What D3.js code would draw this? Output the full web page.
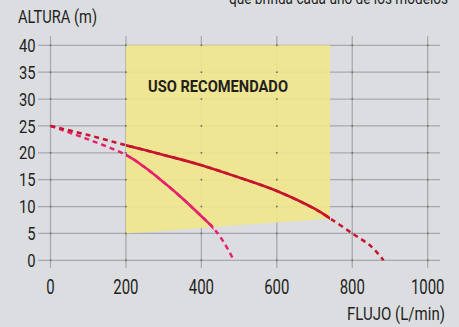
<!DOCTYPE html>
<html>
<head>
<meta charset="utf-8">
<script src="https://cdn.jsdelivr.net/npm/d3@7"></script>
<style>
  html, body { margin: 0; padding: 0; background: #dcdde0; }
  svg { display: block; }
  text { font-family: Roboto, "Noto Sans", sans-serif; fill: #231f20; }
</style>
</head>
<body>
<svg id="chart" width="459" height="327"></svg>
<script>
// Axis ticks
const xTicks = [0, 200, 400, 600, 800, 1000];
const yTicks = [0, 5, 10, 15, 20, 25, 30, 35, 40];

// Recommended-use zone (flow, height)
const zone = [[200, 40], [741, 40], [741, 7.8], [200, 5]];

// Pump curve A (dark red): full curve and solid (recommended) segment
const curveA = [[0, 25], [100, 23.3], [200, 21.4], [300, 19.6], [400, 17.7], [500, 15.4],
                [600, 12.9], [700, 9.6], [741, 7.8], [800, 5.0], [850, 2.6], [883, 0]];
const solidA = [200, 741];

// Pump curve B (pink)
const curveB = [[0, 25], [100, 22.5], [200, 19.6], [250, 17.3], [300, 14.5], [350, 11.5],
                [400, 8.2], [432, 6.0], [460, 3.3], [486, 0]];
const solidB = [200, 432];

const svg = d3.select("#chart");
const x = d3.scaleLinear().domain([0, 1000]).range([50.5, 427.7]);
const y = d3.scaleLinear().domain([0, 40]).range([260.3, 45.3]);

// Grid
const grid = svg.append("g");
grid.selectAll("line.h").data(yTicks).join("line")
  .attr("x1", 38).attr("x2", 440)
  .attr("y1", d => y(d)).attr("y2", d => y(d))
  .attr("stroke", "#a8a9ac").attr("stroke-width", 1.3);
grid.selectAll("line.v").data(xTicks).join("line")
  .attr("x1", d => x(d)).attr("x2", d => x(d))
  .attr("y1", 36).attr("y2", 268)
  .attr("stroke", "#a8a9ac").attr("stroke-width", 1.3);

// Recommended zone
svg.append("path")
  .attr("d", d3.line().x(d => x(d[0])).y(d => y(d[1]))(zone) + "Z")
  .attr("fill", "#f0e68c").attr("fill-opacity", 0.92);

svg.append("text")
  .attr("x", 148).attr("y", 91.7)
  .attr("font-size", 16.5).attr("font-weight", "bold")
  .attr("textLength", 140).attr("lengthAdjust", "spacingAndGlyphs")
  .text("USO RECOMENDADO");

// Intersection dots
const pts = [];
xTicks.forEach(a => yTicks.forEach(b => pts.push([a, b])));
svg.append("g").selectAll("rect").data(pts).join("rect")
  .attr("x", d => x(d[0]) - 0.8).attr("y", d => y(d[1]) - 0.8)
  .attr("width", 1.6).attr("height", 1.6).attr("fill", "#6a6a6c");

const line = d3.line().curve(d3.curveCatmullRom).x(d => x(d[0])).y(d => y(d[1]));

function drawCurve(data, solid, color, id) {
  svg.append("path").attr("d", line(data)).attr("fill", "none")
    .attr("stroke", color).attr("stroke-width", 2.5).attr("stroke-dasharray", "5,4");
  svg.append("clipPath").attr("id", id).append("rect")
    .attr("x", x(solid[0])).attr("y", 0)
    .attr("width", x(solid[1]) - x(solid[0])).attr("height", 327);
  // solid stretch inside the recommended range
  svg.append("path").attr("d", line(data)).attr("fill", "none")
    .attr("stroke", color).attr("stroke-width", 2.6)
    .attr("clip-path", `url(#${id})`);
}
drawCurve(curveB, solidB, "#e8206e", "clipB");
drawCurve(curveA, solidA, "#c5142e", "clipA");

// Y tick labels
svg.append("g").selectAll("text").data(yTicks).join("text")
  .attr("x", 35.5).attr("y", d => y(d) + 6.6)
  .attr("text-anchor", "end").attr("font-size", 18.5)
  .attr("textLength", d => String(d).length * 8.3).attr("lengthAdjust", "spacingAndGlyphs")
  .text(d => d);

// X tick labels
svg.append("g").selectAll("text").data(xTicks).join("text")
  .attr("x", d => x(d)).attr("y", 294)
  .attr("text-anchor", "middle").attr("font-size", 20.5)
  .attr("textLength", d => String(d).length * 8.4).attr("lengthAdjust", "spacingAndGlyphs")
  .text(d => d);

svg.append("text").attr("x", 18).attr("y", 23).attr("font-size", 18.5)
  .attr("textLength", 79).attr("lengthAdjust", "spacingAndGlyphs").text("ALTURA (m)");

// Axis title squeezed horizontally to a condensed width
const flujo = svg.append("text").attr("font-size", 18).text("FLUJO (L/min)");
const fw = flujo.node().getComputedTextLength();
flujo.attr("transform", `translate(347,320) scale(${98 / fw},1)`);

svg.append("text").attr("x", 229).attr("y", 3.5).attr("font-size", 16)
  .attr("textLength", 219).attr("lengthAdjust", "spacingAndGlyphs")
  .text("que brinda cada uno de los modelos");
</script>
</body>
</html>
